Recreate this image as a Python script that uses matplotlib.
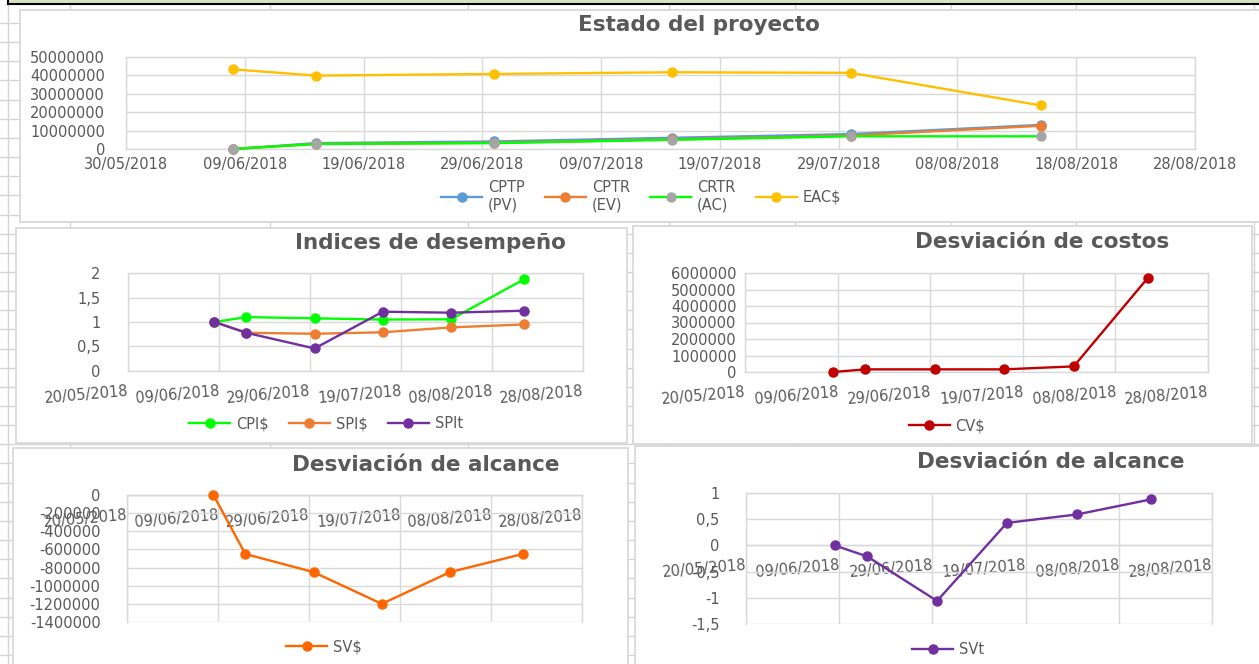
import numpy as np
import pandas as pd
import matplotlib
matplotlib.use('Agg')
import matplotlib.pyplot as plt
import matplotlib.dates as mdates
from matplotlib.lines import Line2D
from matplotlib.patches import Rectangle
from matplotlib.ticker import FuncFormatter

W, H = 1259, 664
GRIS = '#595959'
REJILLA = '#D9D9D9'

# fechas de corte
fechas = pd.to_datetime(['2018-06-08', '2018-06-15', '2018-06-30',
                         '2018-07-15', '2018-07-30', '2018-08-15'])

# estado del proyecto
cptp_pv = [0, 3200000, 4100000, 6100000, 8100000, 13100000]
cptr_ev = [0, 2800000, 3400000, 5200000, 7300000, 12600000]
crtr_ac = [0, 2700000, 3200000, 5000000, 6900000, 6900000]
eac = [43300000, 39900000, 40800000, 41700000, 41400000, 23700000]

# indices
cpi = [1.0, 1.10, 1.075, 1.05, 1.055, 1.87]
spi = [1.0, 0.78, 0.76, 0.79, 0.89, 0.95]
spit = [1.0, 0.78, 0.46, 1.21, 1.19, 1.23]

# desviaciones
cv = [0, 160000, 160000, 160000, 340000, 5700000]
sv = [0, -650000, -850000, -1200000, -850000, -650000]
svt = [0, -0.21, -1.06, 0.43, 0.59, 0.88]

ticks_10d = pd.date_range('2018-05-30', '2018-08-28', freq='10D')
ticks_20d = pd.date_range('2018-05-20', '2018-08-28', freq='20D')

fig = plt.figure(figsize=(W / 100, H / 100), dpi=100)
fig.patch.set_facecolor('white')


def px(x0, y0, x1, y1):
    return [x0 / W, 1 - y1 / H, (x1 - x0) / W, (y1 - y0) / H]


# cuadricula de la hoja de excel
filas = np.arange(23, H, 19.15)
for y in filas:
    fig.add_artist(Line2D([0, 1], [1 - y / H] * 2, color='#D4D4D4', lw=1, zorder=0.5))
for x in [8, 70, 270, 468, 669, 795, 951, 1076, 1254]:
    fig.add_artist(Line2D([x / W] * 2, [0, 1 - 3 / H], color='#D4D4D4', lw=1, zorder=0.5))
fig.add_artist(Rectangle((8 / W, 1 - 3 / H), 1, 3 / H, transform=fig.transFigure,
                         facecolor='#D8E4BC', edgecolor='none', zorder=0.6))
fig.add_artist(Line2D([8 / W, 1], [1 - 3.5 / H] * 2, color='black', lw=1.5, zorder=0.7))
fig.add_artist(Line2D([8 / W] * 2, [1, 1 - 3.5 / H], color='black', lw=1.5, zorder=0.7))


def caja(x0, y0, x1, y1):
    fig.add_artist(Rectangle((x0 / W, 1 - y1 / H), (x1 - x0) / W, (y1 - y0) / H,
                             transform=fig.transFigure, facecolor='white',
                             edgecolor=REJILLA, lw=1.3, zorder=1))


def ejes(box, ticks, ylim, ystep, fmt, ypad):
    ax = fig.add_axes(px(*box))
    ax.set_zorder(3)
    ax.patch.set_alpha(0)
    ax.set_xlim(ticks[0], ticks[-1])
    ax.set_xticks(ticks)
    ax.xaxis.set_major_formatter(mdates.DateFormatter('%d/%m/%Y'))
    ax.set_ylim(*ylim)
    ax.set_yticks(np.arange(ylim[0], ylim[1] + ystep / 2, ystep))
    ax.yaxis.set_major_formatter(FuncFormatter(fmt))
    ax.grid(True, color=REJILLA, lw=1)
    ax.set_axisbelow(True)
    for s in ax.spines.values():
        s.set_color(REJILLA)
        s.set_linewidth(1)
    ax.tick_params(length=0, labelsize=10.5, labelcolor=GRIS)
    ax.tick_params(axis='y', pad=ypad)
    return ax


def titulo(cx, cy, texto):
    fig.text(cx / W, 1 - cy / H, texto, ha='center', va='center', fontsize=15.5,
             fontweight='bold', color=GRIS, zorder=4)


def leyenda(ax, cx, cy, n):
    ax.legend(loc='center', bbox_to_anchor=(cx / W, 1 - cy / H), bbox_transform=fig.transFigure,
              ncol=n, frameon=False, handlelength=2.8, columnspacing=1.4, handletextpad=0.4,
              fontsize=10.5, labelcolor=GRIS)


def serie(ax, y, color, etiqueta, mcolor=None):
    mcolor = mcolor or color
    ax.plot(fechas, y, color=color, lw=1.7, marker='o', ms=6.5, mfc=mcolor, mec=mcolor,
            label=etiqueta, clip_on=False, zorder=5)


def rotar(ax):
    plt.setp(ax.get_xticklabels(), rotation=5, ha='right', rotation_mode='anchor')
    ax.tick_params(axis='x', pad=9)


entero = lambda v, p: '%d' % v
coma = lambda v, p: ('%g' % v).replace('.', ',')

# 1. estado del proyecto
caja(20, 10, 1270, 222)
ax1 = ejes((126, 57, 1195, 149), ticks_10d, (0, 50000000), 10000000, entero, 15)
ax1.tick_params(axis='x', pad=6)
serie(ax1, cptp_pv, '#5B9BD5', 'CPTP\n(PV)')
serie(ax1, cptr_ev, '#ED7D31', 'CPTR\n(EV)')
serie(ax1, crtr_ac, '#00FF00', 'CRTR\n(AC)', '#A5A5A5')
serie(ax1, eac, '#FFC000', 'EAC$')
titulo(699, 25, 'Estado del proyecto')
leyenda(ax1, 641, 196, 4)

# 2. indices de desempeño
caja(16, 228, 627, 443)
ax2 = ejes((128, 273, 583, 371), ticks_20d, (0, 2), 0.5, coma, 20)
serie(ax2, cpi, '#00FF00', 'CPI$')
serie(ax2, spi, '#ED7D31', 'SPI$')
serie(ax2, spit, '#7030A0', 'SPIt')
rotar(ax2)
titulo(430, 243, 'Indices de desempeño')
leyenda(ax2, 326, 424, 3)

# 3. desviacion de costos
caja(633, 226, 1252, 444)
ax3 = ejes((745, 273, 1208, 372), ticks_20d, (0, 6000000), 1000000, entero, 6)
serie(ax3, cv, '#C00000', 'CV$')
rotar(ax3)
titulo(1042, 242, 'Desviación de costos')
leyenda(ax3, 947, 426, 1)

# 4. desviacion de alcance $
caja(13, 448, 628, 680)
ax4 = ejes((127, 495, 582, 622), ticks_20d, (-1400000, 0), 200000, entero, 19)
ax4.spines['bottom'].set_position(('data', 0))
serie(ax4, sv, '#FF6600', 'SV$')
rotar(ax4)
titulo(426, 465, 'Desviación de alcance')
leyenda(ax4, 324, 647, 1)

# 5. desviacion de alcance t
caja(635, 446, 1270, 680)
ax5 = ejes((746, 493, 1212, 624), ticks_20d, (-1.5, 1), 0.5, coma, 19)
ax5.spines['bottom'].set_position(('data', 0))
serie(ax5, svt, '#7030A0', 'SVt')
rotar(ax5)
titulo(1051, 462, 'Desviación de alcance')
leyenda(ax5, 948, 650, 1)

fig.savefig('out.png', dpi=100, facecolor='white')
